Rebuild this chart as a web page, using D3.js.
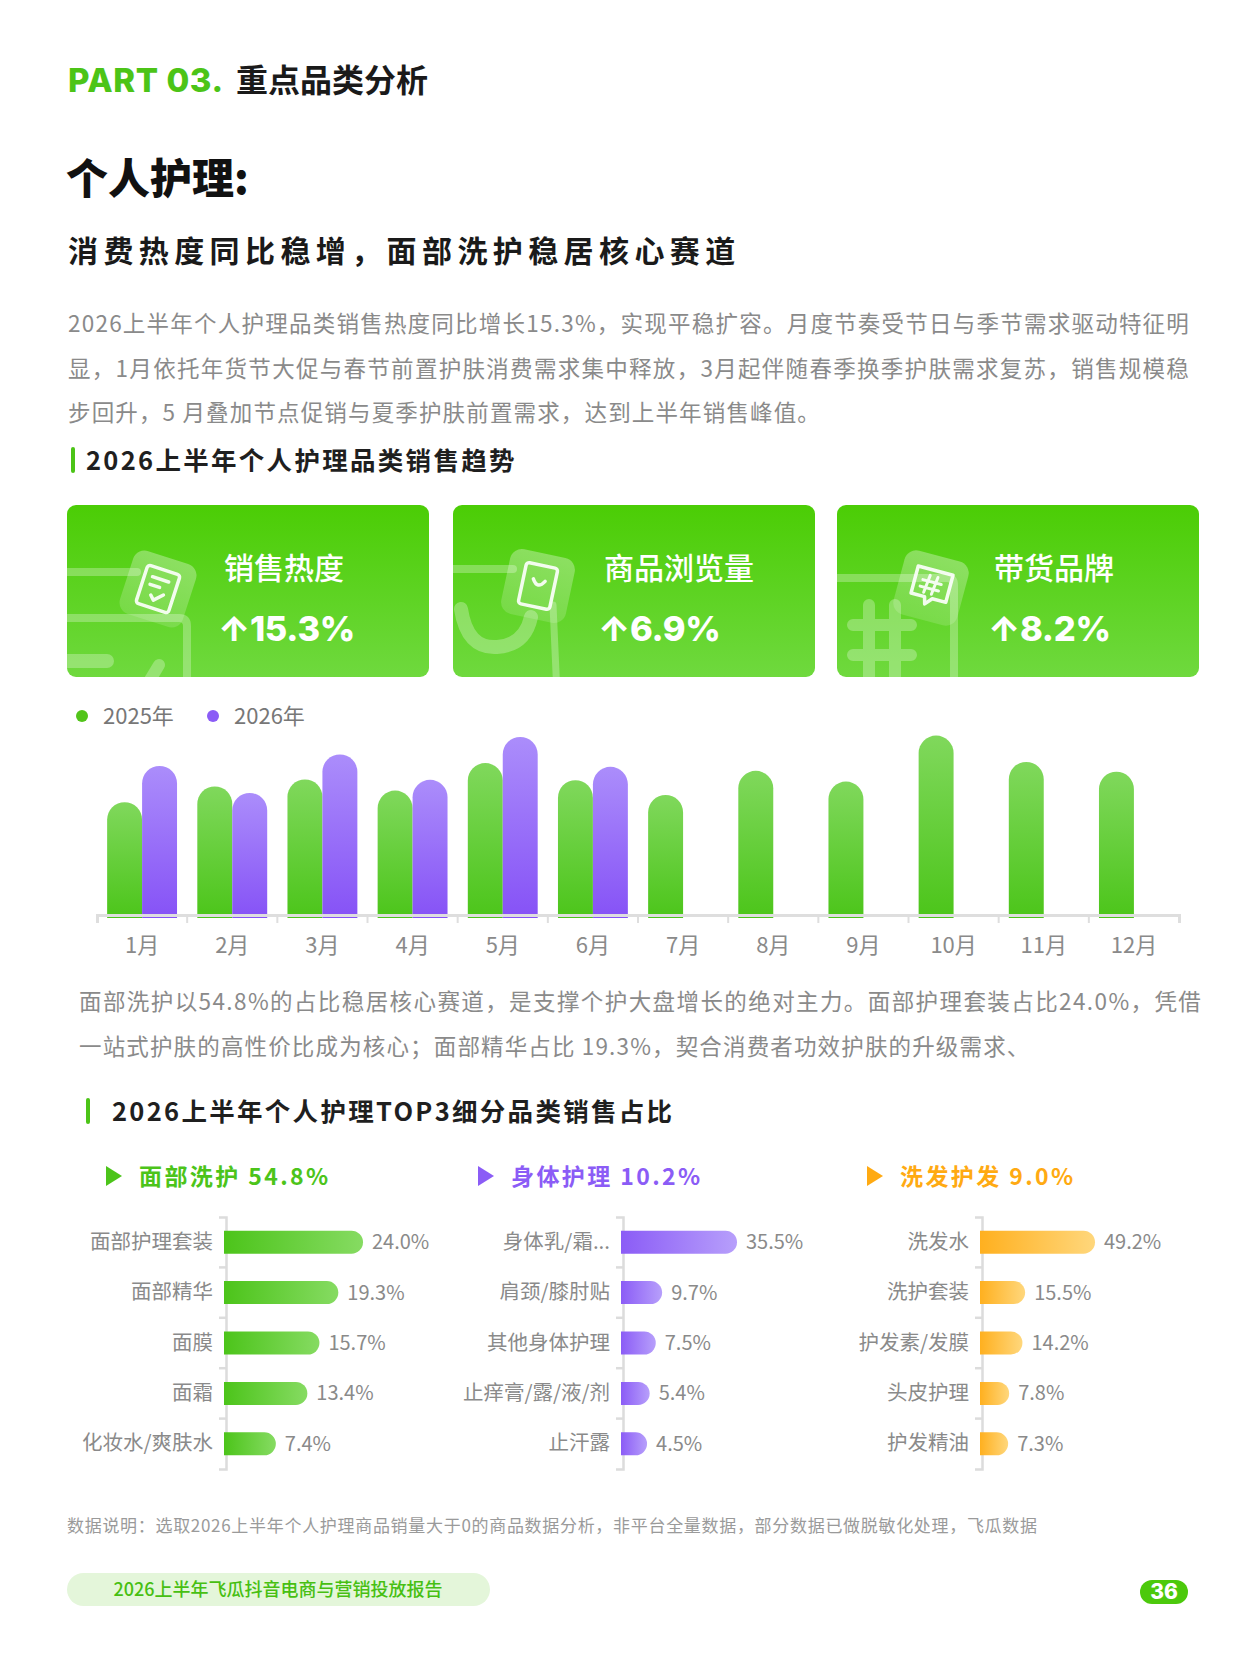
<!DOCTYPE html>
<html>
<head>
<meta charset="utf-8">
<script src="https://cdn.jsdelivr.net/npm/d3@7"></script>
<style>
  body { margin: 0; background: #fff; }
  svg { display: block; font-family: "Noto Sans CJK SC", "Noto Sans", sans-serif; }
</style>
</head>
<body>
<svg id="page" width="1249" height="1666"></svg>
<script>
// ---- data ----
var cardTitles = ["销售热度", "商品浏览量", "带货品牌"];
var cardGrowth = ["15.3%", "6.9%", "8.2%"];

var months = ["1月", "2月", "3月", "4月", "5月", "6月", "7月", "8月", "9月", "10月", "11月", "12月"];
var years = ["2025年", "2026年"];
// sales heat index (no axis in source)
var sales2025 = [62.7, 71.4, 75.3, 69.1, 84.4, 74.9, 66.7, 80.1, 74.1, 99.7, 85.0, 79.6];
var sales2026 = [82.8, 67.8, 89.2, 75.1, 98.9, 82.3];

var groupNames = ["面部洗护", "身体护理", "洗发护发"];
var groupShares = ["54.8%", "10.2%", "9.0%"];
var faceCats = ["面部护理套装", "面部精华", "面膜", "面霜", "化妆水/爽肤水"];
var faceVals = [24.0, 19.3, 15.7, 13.4, 7.4];
var bodyCats = ["身体乳/霜...", "肩颈/膝肘贴", "其他身体护理", "止痒膏/露/液/剂", "止汗露"];
var bodyVals = [35.5, 9.7, 7.5, 5.4, 4.5];
var hairCats = ["洗发水", "洗护套装", "护发素/发膜", "头皮护理", "护发精油"];
var hairVals = [49.2, 15.5, 14.2, 7.8, 7.3];

var introLines = [
  "2026上半年个人护理品类销售热度同比增长15.3%，实现平稳扩容。月度节奏受节日与季节需求驱动特征明",
  "显，1月依托年货节大促与春节前置护肤消费需求集中释放，3月起伴随春季换季护肤需求复苏，销售规模稳",
  "步回升，5 月叠加节点促销与夏季护肤前置需求，达到上半年销售峰值。"
];
var shareLines = [
  "面部洗护以54.8%的占比稳居核心赛道，是支撑个护大盘增长的绝对主力。面部护理套装占比24.0%，凭借",
  "一站式护肤的高性价比成为核心；面部精华占比 19.3%，契合消费者功效护肤的升级需求、"
];

var GREEN = "#4cc417";
var GRAY = "#8a8a8a";

var svg = d3.select("#page");
var defs = svg.append("defs");

function grad(id, stops, vertical) {
  var g = defs.append("linearGradient").attr("id", id)
    .attr("x1", 0).attr("y1", 0)
    .attr("x2", vertical ? 0 : 1).attr("y2", vertical ? 1 : 0);
  stops.forEach(function (c, i) {
    g.append("stop").attr("offset", i / (stops.length - 1)).attr("stop-color", c);
  });
}
grad("gCard", ["#4bcd05", "#6fd93e"], true);
grad("gBar25", ["#80d85c", "#4cc51a"], true);
grad("gBar26", ["#ab8dfb", "#8652f6"], true);
grad("gTile", ["rgba(255,255,255,0.32)", "rgba(255,255,255,0.14)"], true);
grad("hGreen", ["#4cc41a", "#86db62"], false);
grad("hPurple", ["#8b5cf6", "#b79ffb"], false);
grad("hOrange", ["#ffb01f", "#ffd77c"], false);

// ---- header ----
svg.append("text").attr("x", 68).attr("y", 92)
  .attr("font-family", "Inter, 'Noto Sans', sans-serif")
  .attr("font-weight", 800).attr("font-size", 33).attr("fill", GREEN)
  .attr("letter-spacing", 0.6)
  .text("PART 03.");
svg.append("text").attr("x", 236).attr("y", 92)
  .attr("font-weight", 700).attr("font-size", 32).attr("fill", "#1a1a1a")
  .text("重点品类分析");
svg.append("text").attr("x", 66).attr("y", 194)
  .attr("font-weight", 900).attr("font-size", 42).attr("fill", "#111")
  .text("个人护理:");
svg.append("text").attr("x", 68).attr("y", 262)
  .attr("font-weight", 700).attr("font-size", 30).attr("fill", "#1a1a1a")
  .attr("letter-spacing", 5.4)
  .text("消费热度同比稳增，面部洗护稳居核心赛道");

function paragraph(lines, x, y0, width) {
  lines.forEach(function (s, i) {
    var t = svg.append("text").attr("x", x).attr("y", y0 + i * 44.5)
      .attr("font-size", 22.5).attr("fill", GRAY).attr("letter-spacing", 1.15).text(s);
    if (i < lines.length - 1) t.attr("textLength", width).attr("lengthAdjust", "spacing");
  });
}
paragraph(introLines, 68, 332, 1122);

function sectionHead(barX, y, textX, s, spacing) {
  svg.append("rect").attr("x", barX).attr("y", y - 23).attr("width", 4).attr("height", 26)
    .attr("rx", 2).attr("fill", GREEN);
  svg.append("text").attr("x", textX).attr("y", y)
    .attr("font-weight", 700).attr("font-size", 25.5).attr("fill", "#1f1f1f")
    .attr("letter-spacing", spacing).text(s);
}
sectionHead(71, 470, 86, "2026上半年个人护理品类销售趋势", 2.3);

// ---- KPI cards ----
var cardX = [67, 453, 837], cardY = 505, cardW = 362, cardH = 172;
var textOff = [157, 151, 157];
var deco = "rgba(255,255,255,0.28)";

cardTitles.forEach(function (title, i) {
  var g = svg.append("g").attr("transform", "translate(" + cardX[i] + "," + cardY + ")");
  defs.append("clipPath").attr("id", "clip" + i)
    .append("rect").attr("width", cardW).attr("height", cardH).attr("rx", 9);
  g.append("rect").attr("width", cardW).attr("height", cardH).attr("rx", 9).attr("fill", "url(#gCard)");
  var d = g.append("g").attr("clip-path", "url(#clip" + i + ")")
    .attr("fill", "none").attr("stroke", deco).attr("stroke-linecap", "round");
  var tile;
  if (i === 0) {
    d.append("path").attr("d", "M-5,67 H70").attr("stroke-width", 8);
    d.append("path").attr("d", "M-5,113 H112 Q120,113 120,121 V190").attr("stroke-width", 8);
    d.append("path").attr("d", "M-10,156 H40").attr("stroke-width", 14);
    d.append("path").attr("d", "M80,180 L92,160").attr("stroke-width", 12);
    tile = d.append("g").attr("transform", "translate(91,84) rotate(18)");
  } else if (i === 1) {
    d.append("path").attr("d", "M-5,64 H60").attr("stroke-width", 8);
    d.append("path").attr("d", "M8,104 Q14,144 44,142 Q72,140 78,112").attr("stroke-width", 14);
    d.append("path").attr("d", "M100,100 L104,190").attr("stroke-width", 7);
    tile = d.append("g").attr("transform", "translate(85,81) rotate(12)");
  } else {
    d.append("path").attr("d", "M-5,73 H110 Q117,73 117,80 V190").attr("stroke-width", 8);
    d.append("path").attr("d", "M32,100 V180 M58,100 V180 M16,120 H74 M16,150 H74").attr("stroke-width", 12);
    tile = d.append("g").attr("transform", "translate(94,83) rotate(15)");
  }
  tile.append("rect").attr("x", -33).attr("y", -33).attr("width", 66).attr("height", 66).attr("rx", 12)
    .attr("fill", "url(#gTile)").attr("stroke", "none");
  var ic = tile.append("g").attr("stroke", "rgba(255,255,255,0.9)").attr("stroke-width", 3.5)
    .attr("fill", "none").attr("stroke-linejoin", "round");
  if (i === 0) {
    ic.append("rect").attr("x", -17).attr("y", -20).attr("width", 34).attr("height", 40).attr("rx", 3);
    ic.append("path").attr("d", "M-9,-10 H8 M-9,-2 H1 M-5,8 L-1,12 L7,4");
  } else if (i === 1) {
    ic.append("rect").attr("x", -16).attr("y", -21).attr("width", 32).attr("height", 42).attr("rx", 3);
    ic.append("path").attr("d", "M-6,-6 Q0,4 6,-6");
  } else {
    ic.append("path").attr("d", "M-18,-18 H18 V10 H4 L-2,17 L-4,10 H-18 Z");
    ic.append("path").attr("d", "M-4,-12 L-6,6 M4,-12 L2,6 M-10,-6 H9 M-11,1 H8").attr("stroke-width", 3);
  }
  g.append("text").attr("x", textOff[i]).attr("y", 74)
    .attr("font-size", 30).attr("font-weight", 500).attr("fill", "#fff").text(title);
  g.append("text").attr("x", textOff[i] - 6).attr("y", 136)
    .attr("font-family", "Inter, 'Noto Sans', sans-serif")
    .attr("font-size", 34.5).attr("font-weight", 800).attr("fill", "#fff")
    .attr("letter-spacing", -0.3)
    .text("↑" + cardGrowth[i]);
});

// ---- monthly bar chart ----
var base = 915;
var scX = d3.scaleBand().domain(months).range([97, 1179]);
var scSub = d3.scaleBand().domain(years).range([0, scX.bandwidth()]).paddingOuter(0.29);
var scY = d3.scaleLinear().domain([0, 100]).range([base, base - 180]);

var legend = svg.append("g");
years.forEach(function (yr, i) {
  var lx = [82, 213][i];
  legend.append("circle").attr("cx", lx).attr("cy", 716).attr("r", 6)
    .attr("fill", i === 0 ? "#52c41a" : "#8b5cf6");
  legend.append("text").attr("x", lx + 21).attr("y", 724).attr("font-size", 22)
    .attr("fill", "#777").text(yr);
});

function capBar(x, w, y) {
  var r = w / 2;
  return "M" + x + "," + (base + 3) + "V" + (y + r) +
    "A" + r + "," + r + " 0 0 1 " + (x + w) + "," + (y + r) + "V" + (base + 3) + "Z";
}
var series = [sales2025, sales2026];
series.forEach(function (vals, si) {
  svg.append("g").selectAll("path")
    .data(vals)
    .enter()
    .append("path")
    .attr("fill", si === 0 ? "url(#gBar25)" : "url(#gBar26)")
    .attr("d", function (v, i) {
      return capBar(scX(months[i]) + scSub(years[si]), scSub.bandwidth(), scY(v));
    });
});

var axB = svg.append("g").attr("transform", "translate(0," + base + ")")
  .call(d3.axisBottom(scX).tickSizeInner(0).tickSizeOuter(8).tickPadding(22));
axB.select(".domain").attr("stroke", "#dedede").attr("stroke-width", 3);
axB.selectAll("text").attr("font-size", 22).attr("fill", GRAY)
  .attr("font-family", "\"Noto Sans CJK SC\", sans-serif");
axB.selectAll(".sep").data(months.slice(1)).enter().append("line").attr("class", "sep")
  .attr("x1", function (m) { return scX(m); }).attr("x2", function (m) { return scX(m); })
  .attr("y1", 0).attr("y2", 8).attr("stroke", "#dedede").attr("stroke-width", 2);

// ---- share text + section 2 ----
paragraph(shareLines, 79, 1010, 1123);
sectionHead(86, 1121, 112, "2026上半年个人护理TOP3细分品类销售占比", 2.3);

var groups = [
  { cats: faceCats, vals: faceVals, color: "#4cc41a", fill: "url(#hGreen)" },
  { cats: bodyCats, vals: bodyVals, color: "#8b5cf6", fill: "url(#hPurple)" },
  { cats: hairCats, vals: hairVals, color: "#ffaa12", fill: "url(#hOrange)" }
];
var headX = [106, 478, 867];
var axisX = [226, 623, 982];
var span = [126, 103, 102];
var barH = 23, r = barH / 2;

groups.forEach(function (grp, gi) {
  var hx = headX[gi];
  svg.append("path").attr("d", "M" + hx + ",1166 L" + (hx + 16) + ",1176 L" + hx + ",1186 Z")
    .attr("fill", grp.color);
  svg.append("text").attr("x", hx + 33).attr("y", 1185)
    .attr("font-size", 23).attr("font-weight", 700).attr("fill", grp.color)
    .attr("letter-spacing", 2.4)
    .text(groupNames[gi] + " " + groupShares[gi]);

  var ax = axisX[gi];
  var scB = d3.scaleBand().domain(grp.cats).range([1217, 1469]);
  var scV = d3.scaleLinear().domain([0, d3.max(grp.vals)]).range([0, span[gi]]);
  var g = svg.append("g").attr("transform", "translate(" + ax + ",0)");
  var axL = g.append("g")
    .call(d3.axisLeft(scB).tickSizeInner(0).tickSizeOuter(7).tickPadding(13));
  axL.select(".domain").attr("stroke", "#dcdcdc").attr("stroke-width", 2.5);
  axL.selectAll("text").attr("font-size", 20.5).attr("fill", GRAY)
    .attr("font-family", "\"Noto Sans CJK SC\", sans-serif");
  g.selectAll(".sep").data(grp.cats.slice(1)).enter().append("line")
    .attr("x1", -7).attr("x2", 0)
    .attr("y1", function (c) { return scB(c); }).attr("y2", function (c) { return scB(c); })
    .attr("stroke", "#dcdcdc").attr("stroke-width", 2.5);

  g.selectAll(".bar").data(grp.vals).enter().append("path")
    .attr("fill", grp.fill)
    .attr("d", function (v, i) {
      var y0 = scB(grp.cats[i]) + (scB.bandwidth() - barH) / 2;
      var x1 = scV(v) + 11;
      return "M-2," + y0 + "H" + (x1 - r) + "A" + r + "," + r + " 0 0 1 " + (x1 - r) + "," + (y0 + barH) + "H-2Z";
    });
  g.selectAll(".val").data(grp.vals).enter().append("text")
    .attr("x", function (v) { return scV(v) + 11 + 9; })
    .attr("y", function (v, i) { return scB(grp.cats[i]) + scB.bandwidth() / 2 + 7; })
    .attr("font-size", 20).attr("fill", GRAY)
    .text(function (v) { return v.toFixed(1) + "%"; });
});

// ---- footer ----
svg.append("text").attr("x", 67).attr("y", 1532).attr("font-size", 17).attr("fill", "#9a9a9a")
  .attr("textLength", 970).attr("lengthAdjust", "spacing")
  .text("数据说明：选取2026上半年个人护理商品销量大于0的商品数据分析，非平台全量数据，部分数据已做脱敏化处理，飞瓜数据");
svg.append("rect").attr("x", 67).attr("y", 1573).attr("width", 423).attr("height", 33).attr("rx", 16.5)
  .attr("fill", "#e4f6da");
svg.append("text").attr("x", 278).attr("y", 1596).attr("text-anchor", "middle")
  .attr("font-size", 18).attr("font-weight", 500).attr("fill", "#47bf12")
  .text("2026上半年飞瓜抖音电商与营销投放报告");
svg.append("rect").attr("x", 1140).attr("y", 1580).attr("width", 48).attr("height", 24).attr("rx", 12)
  .attr("fill", "#4cc90c");
svg.append("text").attr("x", 1164).attr("y", 1599).attr("text-anchor", "middle")
  .attr("font-family", "Inter, 'Noto Sans', sans-serif")
  .attr("font-size", 21).attr("font-weight", 800).attr("fill", "#fff").text("36");
</script>
</body>
</html>
